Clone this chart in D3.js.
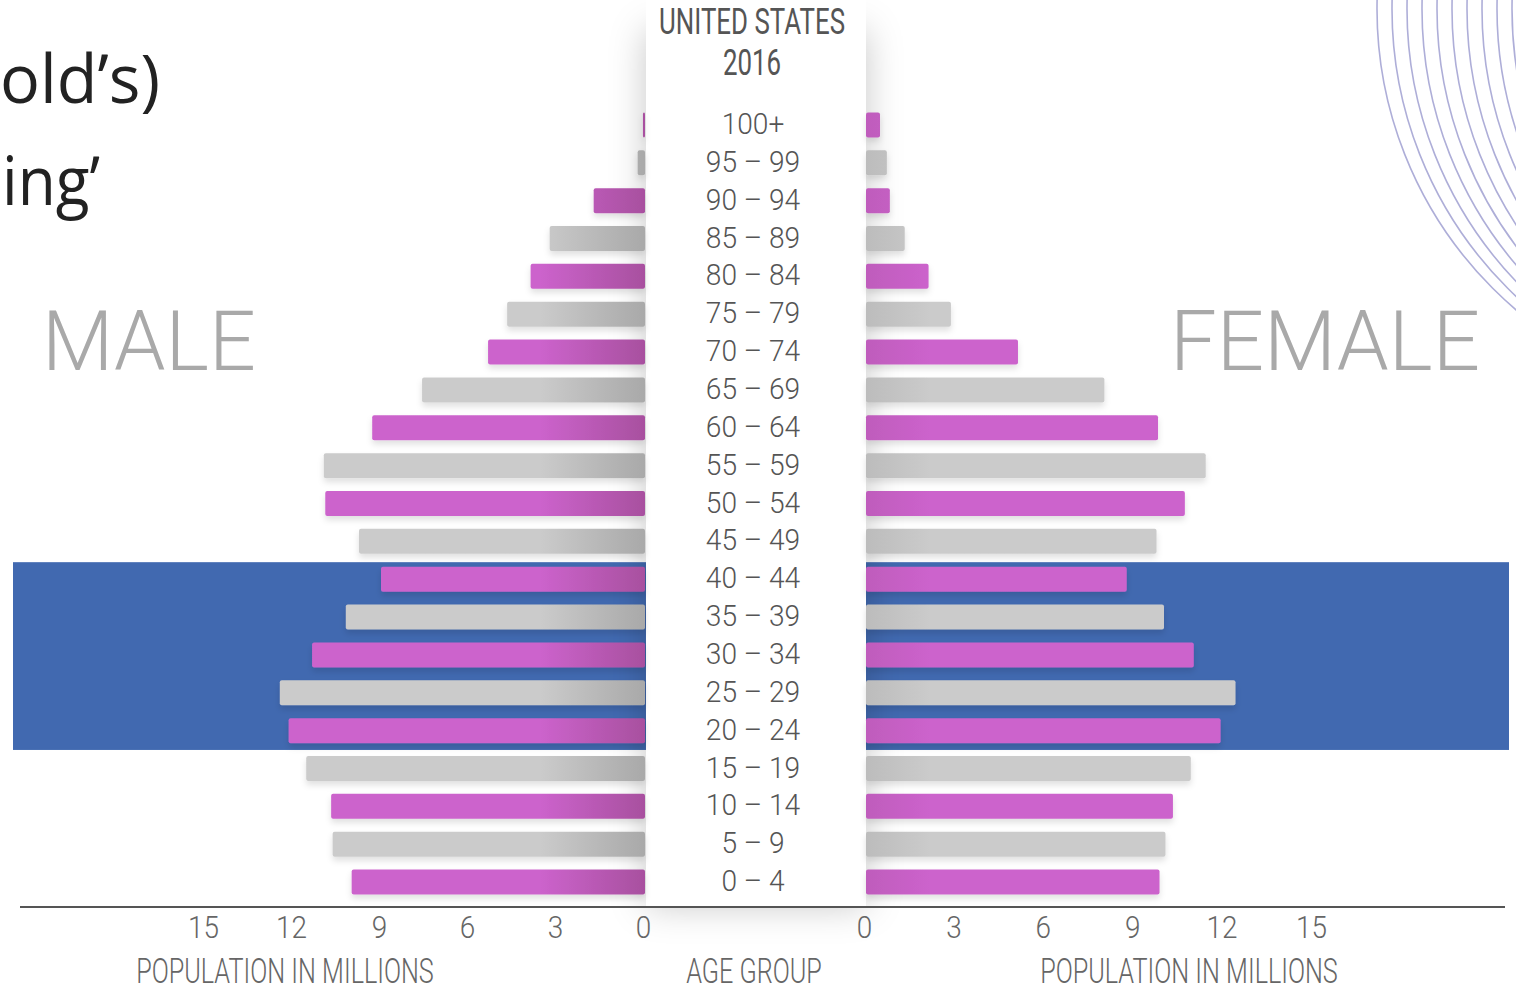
<!DOCTYPE html>
<html>
<head>
<meta charset="utf-8">
<script src="https://cdn.jsdelivr.net/npm/d3@7"></script>
<style>
  html, body { margin: 0; padding: 0; background: #fff; overflow: hidden; }
  svg { display: block; }
</style>
</head>
<body>
<div id="chart"></div>
<script>
const WIDTH = 1516;
const HEIGHT = 990;

// Age groups, top to bottom
const ageGroups = [
    '100+', '95 – 99', '90 – 94', '85 – 89', '80 – 84', '75 – 79', '70 – 74',
    '65 – 69', '60 – 64', '55 – 59', '50 – 54', '45 – 49', '40 – 44', '35 – 39',
    '30 – 34', '25 – 29', '20 – 24', '15 – 19', '10 – 14', '5 – 9', '0 – 4'
];
// Population in millions
const maleValues = [
    0.07, 0.25, 1.75, 3.25, 3.9, 4.7, 5.35,
    7.6, 9.3, 10.95, 10.9, 9.75, 9.0, 10.2,
    11.35, 12.45, 12.15, 11.55, 10.7, 10.65, 10.0
];
const femaleValues = [
    0.47, 0.7, 0.8, 1.3, 2.1, 2.85, 5.1,
    8.0, 9.8, 11.4, 10.7, 9.75, 8.75, 10.0,
    11.0, 12.4, 11.9, 10.9, 10.3, 10.05, 9.85
];
const tickValues = [0, 3, 6, 9, 12, 15];
const highlightGroups = ['40 – 44', '20 – 24'];

const rows = ageGroups.map((g, i) => ({ group: g, male: maleValues[i], female: femaleValues[i], pink: i % 2 === 0 }));

const svg = d3.select('#chart')
    .append('svg')
    .attr('width', WIDTH)
    .attr('height', HEIGHT);

const defs = svg.append('defs');

// gradients: bars darken toward the centre column
function grad(id, x1, x2, c1, c2) {
    const g = defs.append('linearGradient')
        .attr('id', id)
        .attr('gradientUnits', 'userSpaceOnUse')
        .attr('x1', x1).attr('x2', x2).attr('y1', 0).attr('y2', 0);
    g.append('stop').attr('offset', 0).attr('stop-color', c1);
    g.append('stop').attr('offset', 1).attr('stop-color', c2);
}
grad('malePink', 540, 645, '#cc63cc', '#a8509f');
grad('maleGray', 540, 645, '#cbcbcb', '#a9a9a9');
grad('femPink', 866, 930, '#bf5cbc', '#cc63cc');
grad('femGray', 866, 930, '#bcbcbc', '#cbcbcb');

const panelShadow = defs.append('filter').attr('id', 'panelShadow')
    .attr('x', -0.5).attr('y', -0.2).attr('width', 2).attr('height', 1.4);
panelShadow.append('feDropShadow')
    .attr('dx', 0).attr('dy', 0).attr('stdDeviation', 18)
    .attr('flood-color', '#000').attr('flood-opacity', 0.22);

const barShadow = defs.append('filter').attr('id', 'barShadow')
    .attr('x', -0.1).attr('y', -0.5).attr('width', 1.2).attr('height', 2);
barShadow.append('feDropShadow')
    .attr('dx', 0).attr('dy', 4).attr('stdDeviation', 3)
    .attr('flood-color', '#000').attr('flood-opacity', 0.12);

// Scales
const yScale = d3.scaleBand()
    .domain(ageGroups)
    .range([106, 901])
    .paddingInner(0.34)
    .paddingOuter(0.17);

const xMale = d3.scaleLinear().domain([0, 15]).range([645, 205]);
const xFemale = d3.scaleLinear().domain([0, 15]).range([866, 1313]);

// Decorative arcs, top right
svg.append('g')
    .selectAll('circle')
    .data(d3.range(14))
    .enter()
    .append('circle')
    .attr('cx', d => 1772 + d * 15)
    .attr('cy', 9)
    .attr('r', 395)
    .attr('fill', 'none')
    .attr('stroke', '#aeaed8')
    .attr('stroke-width', 1.6);

// Highlight band
const bandTop = yScale(highlightGroups[0]) - yScale.step() * 0.12;
const bandBottom = yScale(highlightGroups[1]) + yScale.bandwidth() + yScale.step() * 0.18;
svg.append('rect')
    .attr('x', 13)
    .attr('y', bandTop)
    .attr('width', 1509 - 13)
    .attr('height', bandBottom - bandTop)
    .attr('fill', '#4169b0');

// Centre column
svg.append('rect')
    .attr('x', 646)
    .attr('y', 30)
    .attr('width', 866 - 646)
    .attr('height', 876)
    .attr('fill', '#fff')
    .attr('filter', 'url(#panelShadow)');
svg.append('rect')
    .attr('x', 646)
    .attr('y', 0)
    .attr('width', 866 - 646)
    .attr('height', 905)
    .attr('fill', '#fff');

// Male bars
svg.append('g')
    .attr('filter', 'url(#barShadow)')
    .selectAll('rect')
    .data(rows)
    .enter()
    .append('rect')
    .attr('x', d => xMale(d.male))
    .attr('y', d => yScale(d.group))
    .attr('width', d => xMale(0) - xMale(d.male))
    .attr('height', yScale.bandwidth())
    .attr('rx', 2)
    .attr('fill', d => d.pink ? 'url(#malePink)' : 'url(#maleGray)');

// Female bars
svg.append('g')
    .attr('filter', 'url(#barShadow)')
    .selectAll('rect')
    .data(rows)
    .enter()
    .append('rect')
    .attr('x', xFemale(0))
    .attr('y', d => yScale(d.group))
    .attr('width', d => xFemale(d.female) - xFemale(0))
    .attr('height', yScale.bandwidth())
    .attr('rx', 2)
    .attr('fill', d => d.pink ? 'url(#femPink)' : 'url(#femGray)');

const CX = 753;

// Age labels
svg.append('g')
    .selectAll('text')
    .data(rows)
    .enter()
    .append('text')
    .attr('transform', d => `translate(${CX},${yScale(d.group) + yScale.bandwidth() / 2 + 9}) scale(0.97,1)`)
    .attr('text-anchor', 'middle')
    .style('font-family', 'Roboto, sans-serif')
    .style('font-weight', 300)
    .style('font-size', '29px')
    .attr('fill', '#555')
    .text(d => d.group);

// Title
function label(txt, x, y, size, weight, color, sx) {
    svg.append('text')
        .attr('transform', `translate(${x},${y}) scale(${sx},1)`)
        .attr('text-anchor', 'middle')
        .style('font-family', 'Roboto, sans-serif')
        .style('font-weight', weight)
        .style('font-size', size + 'px')
        .attr('fill', color)
        .text(txt);
}
label('UNITED STATES', 752, 34, 37, 400, '#555', 0.7);
label('2016', 752, 75, 37, 400, '#555', 0.7);

// Axis baseline
svg.append('line')
    .attr('x1', 20).attr('x2', 1505)
    .attr('y1', 907).attr('y2', 907)
    .attr('stroke', '#555')
    .attr('stroke-width', 2);

// Tick labels
function drawAxis(scale) {
    const g = svg.append('g')
        .attr('transform', 'translate(0,907)')
        .call(d3.axisBottom(scale).tickValues(tickValues).tickSize(0).tickFormat(d3.format('d')));
    g.select('.domain').remove();
    g.selectAll('text')
        .attr('y', 0)
        .attr('dy', 0)
        .attr('transform', 'translate(-2,31) scale(0.9,1)')
        .style('font-family', 'Roboto, sans-serif')
        .style('font-weight', 300)
        .style('font-size', '31px')
        .attr('fill', '#666');
}
drawAxis(xMale);
drawAxis(xFemale);

label('POPULATION IN MILLIONS', 285, 983, 35, 300, '#666', 0.72);
label('AGE GROUP', 754, 983, 35, 300, '#666', 0.72);
label('POPULATION IN MILLIONS', 1189, 983, 35, 300, '#666', 0.72);

// Side titles
svg.append('text')
    .attr('x', 42).attr('y', 370)
    .attr('textLength', 214).attr('lengthAdjust', 'spacingAndGlyphs')
    .style('font-family', 'Roboto, sans-serif')
    .style('font-weight', 300)
    .style('font-size', '84px')
    .attr('fill', '#a9a9a9')
    .text('MALE');
svg.append('text')
    .attr('x', 1170).attr('y', 370)
    .attr('textLength', 310).attr('lengthAdjust', 'spacingAndGlyphs')
    .style('font-family', 'Roboto, sans-serif')
    .style('font-weight', 300)
    .style('font-size', '84px')
    .attr('fill', '#a9a9a9')
    .text('FEMALE');

// Cropped slide text, top left
svg.append('text')
    .attr('x', 0).attr('y', 103)
    .attr('textLength', 160).attr('lengthAdjust', 'spacingAndGlyphs')
    .style('font-family', '"Open Sans", sans-serif')
    .style('font-size', '68px')
    .attr('fill', '#222')
    .text('old’s)');
svg.append('text')
    .attr('x', 2).attr('y', 205)
    .attr('textLength', 98).attr('lengthAdjust', 'spacingAndGlyphs')
    .style('font-family', '"Open Sans", sans-serif')
    .style('font-size', '68px')
    .attr('fill', '#222')
    .text('ing’');
</script>
</body>
</html>
